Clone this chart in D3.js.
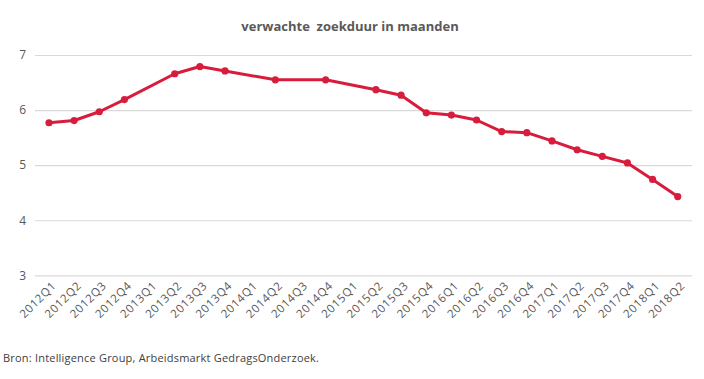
<!DOCTYPE html>
<html>
<head>
<meta charset="utf-8">
<script src="https://cdn.jsdelivr.net/npm/d3@7"></script>
<style>
  html, body { margin: 0; padding: 0; background: #fff; }
  svg { display: block; }
  text { font-family: "Open Sans", "DejaVu Sans", sans-serif; }
</style>
</head>
<body>
<svg id="chart" width="704" height="379"></svg>
<script>
const categories = ["2012Q1","2012Q2","2012Q3","2012Q4","2013Q1","2013Q2","2013Q3","2013Q4",
  "2014Q1","2014Q2","2014Q3","2014Q4","2015Q1","2015Q2","2015Q3","2015Q4",
  "2016Q1","2016Q2","2016Q3","2016Q4","2017Q1","2017Q2","2017Q3","2017Q4","2018Q1","2018Q2"];
// null = no measurement that quarter (line connects neighbours)
const values = [5.77, 5.81, 5.97, 6.19, null, 6.66, 6.79, 6.71,
  null, 6.55, null, 6.55, null, 6.37, 6.27, 5.95,
  5.91, 5.82, 5.61, 5.59, 5.44, 5.28, 5.16, 5.04, 4.74, 4.43];
const yTicks = [3, 4, 5, 6, 7];
const title = "verwachte  zoekduur in maanden";
const source = "Bron: Intelligence Group, Arbeidsmarkt GedragsOnderzoek.";

const svg = d3.select("#chart");
const mLeft = 35, mRight = 692, mTop = 55, mBottom = 275.3;

const x = d3.scaleBand().domain(categories).range([36.4, 690.3]);
const y = d3.scaleLinear().domain([3, 7]).range([mBottom, mTop]);
const cx = c => x(c) + x.bandwidth() / 2;

// title
svg.append("text").attr("x", 350).attr("y", 31).attr("text-anchor", "middle")
  .attr("font-size", 13).attr("font-weight", "bold").attr("fill", "#595959")
  .style("white-space", "pre")
  .text(title);

// gridlines
const yAxis = d3.axisLeft(y).tickValues(yTicks).tickSize(-(mRight - mLeft)).tickPadding(9).tickFormat(d3.format("d"));
const gy = svg.append("g").attr("transform", `translate(${mLeft},0)`).call(yAxis);
gy.select(".domain").remove();
gy.selectAll(".tick line").attr("stroke", "#d9d9d9").attr("stroke-width", 1.2);
gy.selectAll(".tick text").attr("fill", "#595959").attr("font-size", 12).attr("x", -9);

// x labels
const xAxis = d3.axisBottom(x).tickSize(0).tickPadding(0);
const gx = svg.append("g").attr("transform", `translate(0,${mBottom})`).call(xAxis);
gx.select(".domain").remove();
gx.selectAll(".tick text")
  .attr("fill", "#595959").attr("font-size", 11.5).attr("letter-spacing", 0.7)
  .attr("text-anchor", "end").attr("dy", 0).attr("y", 0)
  .attr("transform", "translate(8,11) rotate(-45)");

// line
const pts = categories.map((c, i) => ({c, v: values[i]})).filter(d => d.v !== null);
const line = d3.line().x(d => cx(d.c)).y(d => y(d.v));
svg.append("path").datum(pts).attr("d", line)
  .attr("fill", "none").attr("stroke", "#D81C3C").attr("stroke-width", 3)
  .attr("stroke-linejoin", "round");
svg.selectAll("circle.pt").data(pts).join("circle").attr("class", "pt")
  .attr("cx", d => cx(d.c)).attr("cy", d => y(d.v)).attr("r", 3.6)
  .attr("fill", "#D81C3C");

// source
svg.append("text").attr("x", 3).attr("y", 362).attr("font-size", 11).attr("letter-spacing", 0.2)
  .attr("fill", "#404040").text(source);
</script>
</body>
</html>
